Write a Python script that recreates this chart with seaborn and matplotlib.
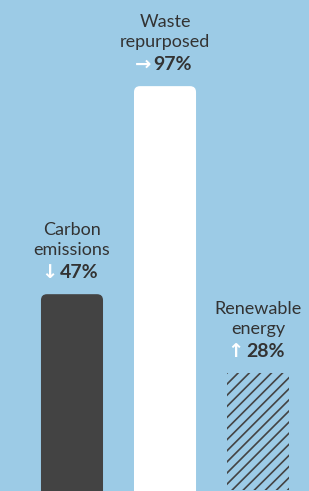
import matplotlib
matplotlib.use("Agg")
import matplotlib.pyplot as plt
import seaborn as sns
import pandas as pd
from matplotlib.patches import FancyBboxPatch

# chart values
names = ["Carbon\nemissions", "Waste\nrepurposed", "Renewable\nenergy"]
values = [47, 97, 28]
arrows = ["\u2193", "\u2192", "\u2191"]
styles = ["dark", "white", "hatch"]

bg = "#9ccbe6"
dark = "#434343"
txt = "#333333"

sns.set_theme(style="white")
plt.rcParams["font.family"] = ["Lato", "DejaVu Sans"]
plt.rcParams["hatch.linewidth"] = 1.2

df = pd.DataFrame({"name": names, "value": values})

fig = plt.figure(figsize=(3.09, 4.91), dpi=100, facecolor=bg)
ax = fig.add_axes([0, 0, 1, 1])
ax.set_facecolor(bg)

sns.barplot(data=df, x="name", y="value", ax=ax, width=0.667,
            color=dark, saturation=1, linewidth=0)

ax.set_xlim(-0.774, 2.548)
ax.set_ylim(-0.3, 117.7)

# pixel -> data conversion for rounded corners
px_x = 3.322 / 309
px_y = 118.0 / 491
radius = 6 * px_x

for bar, st in zip(ax.patches, styles):
    x0, w, h = bar.get_x(), bar.get_width(), bar.get_height()
    if st == "hatch":
        bar.set_facecolor("none")
        bar.set_edgecolor(dark)
        bar.set_hatch("///")
        bar.set_linewidth(0)
        continue
    bar.set_visible(False)
    fc = dark if st == "dark" else "white"
    box = FancyBboxPatch((x0 + radius, -10), w - 2 * radius, h + 10 - radius * px_y / px_x,
                         boxstyle=f"round,pad={radius},rounding_size={radius}",
                         mutation_aspect=px_y / px_x,
                         facecolor=fc, edgecolor="none")
    ax.add_patch(box)

for i, (n, v, a) in enumerate(zip(names, values, arrows)):
    ax.annotate(n, (i, v), xytext=(0, 36), textcoords="offset pixels",
                ha="center", va="bottom", fontsize=13, color=txt,
                linespacing=1.3)
    ax.annotate(a, (i, v), xytext=(-14, 22), textcoords="offset pixels",
                ha="right", va="center", fontsize=14, color="white",
                family=["DejaVu Sans"], fontweight="bold")
    ax.annotate(f"{v}%", (i, v), xytext=(-12, 22), textcoords="offset pixels",
                ha="left", va="center", fontsize=14, color=txt,
                fontweight="bold")

ax.axis("off")
fig.savefig("out.png", dpi=100, facecolor=bg)
